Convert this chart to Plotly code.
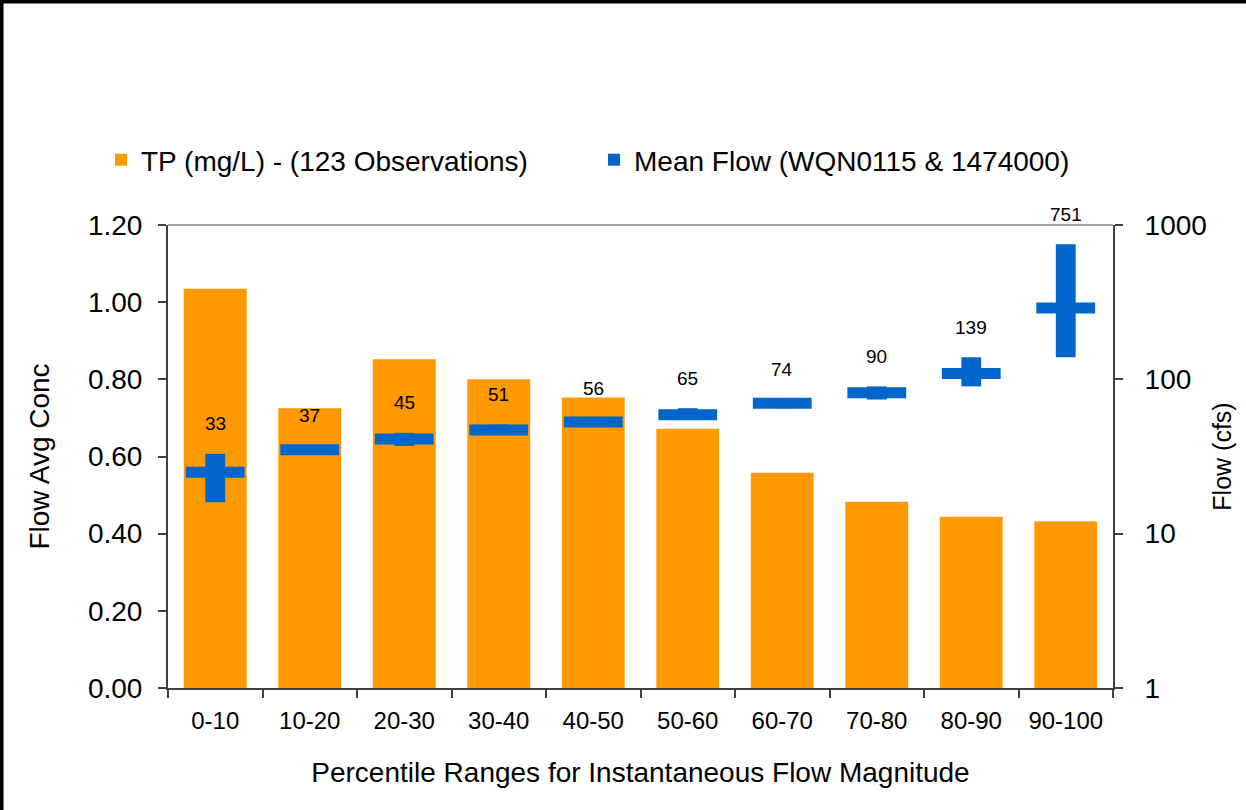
import plotly.graph_objects as go
import math

categories = ["0-10", "10-20", "20-30", "30-40", "40-50", "50-60", "60-70", "70-80", "80-90", "90-100"]
tp_conc = [1.035, 0.725, 0.852, 0.800, 0.753, 0.672, 0.558, 0.483, 0.444, 0.432]
flow_mean = [25, 35, 41, 47, 53, 59, 70, 82, 109, 290]
flow_min = [16, 33, 37, 45, 51, 56, 65, 74, 90, 139]
flow_max = [33, 37, 45, 51, 56, 65, 74, 90, 139, 751]

ORANGE = "#FF9900"
BLUE = "#0066CC"
AXIS = "#404040"
FONT = "Liberation Sans, Arial, sans-serif"

W, H = 1246, 810
ML, MR, MT, MB = 168, 133, 225, 122
PW, PH = W - ML - MR, H - MT - MB

fig = go.Figure()

fig.add_trace(go.Bar(
    x=categories, y=tp_conc, name="TP (mg/L) - (123 Observations)",
    marker=dict(color=ORANGE, line=dict(width=0)), width=0.665, yaxis="y",
))

fig.add_trace(go.Bar(
    x=categories, y=[mx - mn for mx, mn in zip(flow_max, flow_min)], base=flow_min,
    name="Mean Flow (WQN0115 & 1474000)",
    marker=dict(color=BLUE, line=dict(width=0)), width=0.21, yaxis="y2",
))

fig.add_trace(go.Scatter(
    x=categories, y=flow_mean, mode="markers", yaxis="y2", showlegend=False,
    marker=dict(symbol="line-ew", size=42, color=BLUE, line=dict(width=11, color=BLUE)),
    hoverinfo="skip",
))

annotations = []
for c, mx in zip(categories, flow_max):
    annotations.append(dict(
        x=c, y=math.log10(mx), xref="x", yref="y2", text=str(mx), showarrow=False,
        yshift=30, font=dict(size=19, color="black", family=FONT),
    ))


def px_x(p):
    return (p - ML) / PW


def px_y(p):
    return (H - MB - p) / PH


shapes = [
    dict(type="line", xref="paper", yref="paper", x0=0.0, x1=1.0, y0=1.0, y1=1.0,
         line=dict(color="#A0A0A0", width=2), layer="below"),
    dict(type="line", xref="paper", yref="paper", x0=px_x(1.5), x1=px_x(1.5), y0=px_y(810), y1=px_y(1.5),
         line=dict(color="black", width=4)),
    dict(type="line", xref="paper", yref="paper", x0=px_x(0), x1=px_x(1246), y0=px_y(1.5), y1=px_y(1.5),
         line=dict(color="black", width=4)),
]

fig.update_layout(
    width=W, height=H,
    margin=dict(l=ML, r=MR, t=MT, b=MB, pad=0),
    paper_bgcolor="white", plot_bgcolor="white",
    barmode="overlay",
    font=dict(family=FONT, color="black", size=28),
    showlegend=True,
    legend=dict(
        orientation="h", x=px_x(101), xanchor="left", y=px_y(160), yanchor="middle",
        font=dict(size=28, family=FONT), entrywidth=448, entrywidthmode="pixels",
        itemwidth=30, bgcolor="rgba(0,0,0,0)",
    ),
    xaxis=dict(
        type="category", range=[-0.5, len(categories) - 0.5], showline=True, linecolor=AXIS, linewidth=2,
        ticks="outside", tickson="boundaries", ticklen=8, tickcolor=AXIS, tickwidth=2,
        tickfont=dict(size=24, family=FONT), showgrid=False, zeroline=False,
        ticklabelstandoff=10,
        title=dict(text="Percentile Ranges for Instantaneous Flow Magnitude",
                   font=dict(size=28, family=FONT), standoff=30),
    ),
    yaxis=dict(
        range=[0, 1.2], dtick=0.2, tickformat=".2f", showline=True, linecolor=AXIS, linewidth=2,
        ticks="outside", ticklen=8, tickcolor=AXIS, tickwidth=2, showgrid=False, zeroline=False,
        tickfont=dict(size=28, family=FONT), ticklabelstandoff=10,
        title=dict(text="Flow Avg Conc", font=dict(size=28, family=FONT), standoff=30),
    ),
    yaxis2=dict(
        type="log", range=[0, 3], overlaying="y", side="right",
        tickvals=[1, 10, 100, 1000], ticktext=["1", "10", "100", "1000"],
        showline=True, linecolor=AXIS, linewidth=2, ticks="outside", ticklen=8,
        tickcolor=AXIS, tickwidth=2, showgrid=False, zeroline=False,
        tickfont=dict(size=28, family=FONT), ticklabelstandoff=16,
        title=dict(text="Flow (cfs)", font=dict(size=25, family=FONT), standoff=8),
    ),
    annotations=annotations,
    shapes=shapes,
)

fig.write_html(
    "out.html",
    config={"displayModeBar": False},
    post_script="document.body.style.margin='0';document.body.style.overflow='hidden';",
)
